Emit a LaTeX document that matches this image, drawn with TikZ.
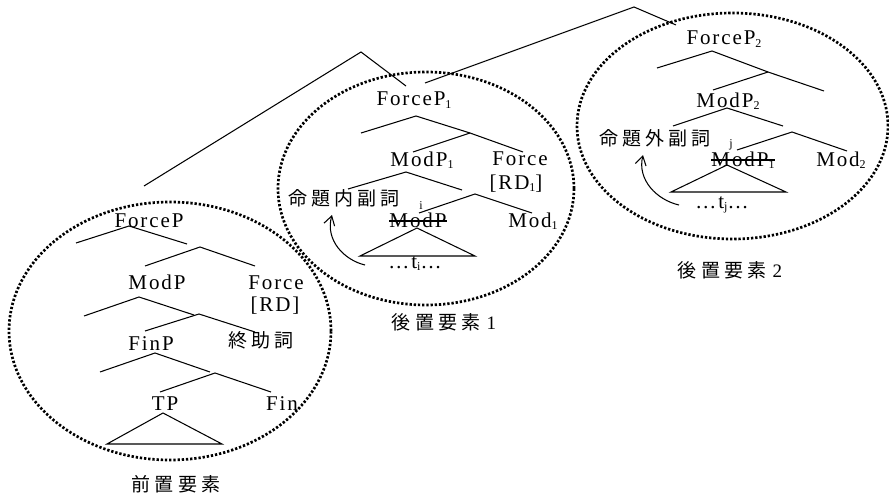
\documentclass[tikz,border=0pt]{standalone}
\usepackage{fontspec}
\setmainfont{Liberation Serif}[LetterSpace=9]
\newfontfamily\cjk{Noto Sans CJK JP}[LetterSpace=22]
\usetikzlibrary{arrows.meta}
\newcommand\lblfont{\fontsize{21}{24}\selectfont}
\newcommand\mysub[1]{\raisebox{-2.5pt}{\fontsize{12}{12}\selectfont #1}}
\newcommand\cjkfont{\fontsize{19}{22}\selectfont\cjk}
\begin{document}
\begin{tikzpicture}[x=1pt,y=-1pt,
  br/.style={line width=1.05pt},
  lab/.style={inner sep=0pt,anchor=base,font=\lblfont},
  cj/.style={inner sep=0pt,font=\cjkfont},
  smallidx/.style={inner sep=0pt,anchor=base,font=\fontsize{12}{12}\selectfont},
  ring/.style={line width=2.7pt,dash pattern=on 2.3pt off 1.9pt},
  mv/.style={line width=1.05pt,-{Straight Barb[length=9pt,width=11pt]}}]
\useasboundingbox (0,0) rectangle (889,495);

% ellipses
\draw[ring] (170,331) ellipse [x radius=161pt, y radius=129pt];
\draw[ring] (426,188.5) ellipse [x radius=148pt, y radius=116.5pt];
\draw[ring] (732.5,126) ellipse [x radius=155.5pt, y radius=113pt];

% top branches
\draw[br] (144,186) -- (361,52) -- (406,86);
\draw[br] (425,83) -- (634,7) -- (676,25);

% ---- left tree ----
\node[lab] (fp) at (149,227) {ForceP};
\draw[br] (76,243) -- (129,226) -- (187,244);
\draw[br] (145,266) -- (200,247) -- (255,266);
\node[lab] (mp) at (157,289) {ModP};
\node[lab] (frc) at (276,289) {Force};
\node[lab] (rd) at (275,311) {[RD]};
\draw[br] (84,316) -- (139,297) -- (194,315);
\draw[br] (145,331) -- (199,314) -- (255,332);
\node[lab] (finp) at (151,350) {FinP};
\node[cj,anchor=base] (sjs) at (261,347) {終助詞};
\draw[br] (100,372) -- (155,353) -- (210,372);
\draw[br] (160,392) -- (215,373) -- (271,392);
\node[lab] (tp) at (165,410) {TP};
\node[lab] (fin) at (282,410) {Fin};
\draw[br] (163,413) -- (107,444) -- (222,444) -- cycle;
\node[cj] (zen) at (176,484) {前置要素};

% ---- middle tree ----
\node[lab] (fp1) at (414,106) {ForceP\mysub{1}};
\draw[br] (361,133) -- (416,116) -- (470,133);
\draw[br] (413,152) -- (470,133) -- (523,152);
\node[lab] (mp1) at (422,166) {ModP\mysub{1}};
\node[lab] (frc1) at (520,165) {Force};
\node[lab] (rd1) at (516,189) {[RD\mysub{1}]};
\draw[br] (348,189) -- (406,172) -- (462,190);
\draw[br] (419,213) -- (475,194) -- (532,213);
\node[cj,anchor=base west] (adv1) at (288,205) {命題内副詞};
\node[smallidx] (idxi) at (421,209) {i};
\node[lab] (mpx) at (418,227) {ModP};
\draw[br] ([yshift=6pt]mpx.base west) -- ([yshift=6pt]mpx.base east);
\node[lab] (mod1) at (533,227) {Mod\mysub{1}};
\draw[br] (417,228) -- (360,256) -- (475,256) -- cycle;
\node[lab] (ti) at (415,268) {\ldots t\mysub{i}\ldots};
\coordinate (a1s) at (365,265);
\coordinate (a1e) at (332,215);
\draw[mv] (a1s) .. controls (344,260) and (325,240) .. (a1e);
\node[inner sep=0pt] (ko1) at (444,322) {{\cjkfont 後置要素}\hspace{6pt}{\fontsize{19}{22}\selectfont 1}};

% ---- right tree ----
\node[lab] (fp2) at (724,45) {ForceP\mysub{2}};
\draw[br] (657,68) -- (712,51) -- (768,72);
\draw[br] (713,90) -- (768,72) -- (824,91);
\node[lab] (mp2) at (728,107) {ModP\mysub{2}};
\draw[br] (673,126) -- (727,108) -- (783,126);
\draw[br] (737,150) -- (792,132) -- (847,151);
\node[cj,anchor=base west] (adv2) at (599,145) {命題外副詞};
\node[smallidx] (idxj) at (731,147) {j};
\node[lab] (mpy) at (743,166) {ModP\mysub{1}};
\draw[br] ([yshift=6pt]mpy.base west) -- ([yshift=6pt]mpy.base east);
\node[lab] (mod2) at (841,166) {Mod\mysub{2}};
\draw[br] (727,165) -- (671,192) -- (786,192) -- cycle;
\node[lab] (tj) at (722,208) {\ldots t\mysub{j}\ldots};
\coordinate (a2s) at (679,205);
\coordinate (a2e) at (643,155);
\draw[mv] (a2s) .. controls (657,200) and (637,180) .. (a2e);
\node[inner sep=0pt] (ko2) at (730,270) {{\cjkfont 後置要素}\hspace{6pt}{\fontsize{19}{22}\selectfont 2}};
\end{tikzpicture}
\end{document}
